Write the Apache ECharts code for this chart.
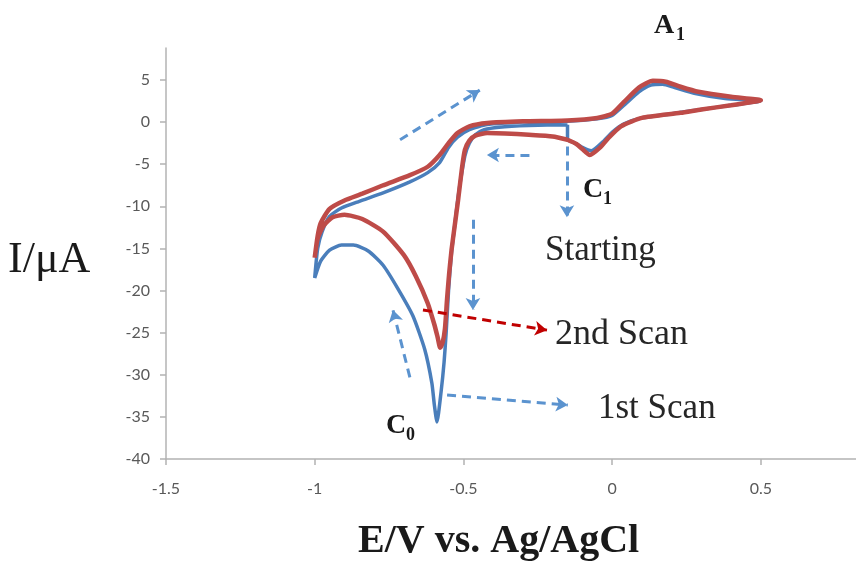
<!DOCTYPE html>
<html>
<head>
<meta charset="utf-8">
<script src="https://cdn.jsdelivr.net/npm/echarts@6/dist/echarts.min.js"></script>
<style>
  html, body { margin: 0; padding: 0; background: #ffffff; }
  #chart { width: 856px; height: 561px; }
</style>
</head>
<body>
<div id="chart"></div>
<script>
// 1st scan (blue), in sweep order: start at -0.15 V, go negative, back to 0.5 V, return
var scan1E = [-0.15, -0.28, -0.38, -0.43, -0.46, -0.48, -0.495, -0.51, -0.52, -0.53, -0.54, -0.55, -0.558, -0.565, -0.575, -0.589,
  -0.598, -0.606, -0.63, -0.67, -0.72, -0.77, -0.82, -0.87, -0.91, -0.95, -0.98, -1.0,
  -0.99, -0.975, -0.95, -0.91, -0.85, -0.77, -0.68, -0.62, -0.58, -0.55, -0.52, -0.48, -0.42, -0.3, -0.15, -0.05, 0.0, 0.04, 0.09, 0.13, 0.17, 0.21, 0.28, 0.38, 0.5,
  0.4, 0.3, 0.2, 0.1, 0.04, 0.0, -0.03, -0.07, -0.1, -0.13, -0.15, -0.15];
var scan1I = [-0.3, -0.4, -0.6, -0.9, -1.5, -2.5, -4, -7, -9.5, -12.5, -15.5, -20, -25, -28.5, -32, -35.6,
  -33.5, -31, -27, -23, -19.8, -17, -15.3, -14.6, -14.6, -15.2, -16.5, -18.5,
  -15, -13, -11.2, -10.2, -9.4, -8.4, -7.1, -6.0, -4.8, -3.0, -1.8, -0.9, -0.3, 0.0, 0.1, 0.4, 0.8, 2.0, 3.6, 4.4, 4.5, 4.1, 3.4, 2.8, 2.5,
  2.0, 1.5, 1.0, 0.5, -0.2, -1.2, -2.3, -3.4, -3.0, -2.4, -2.1, -0.3];

// 2nd scan (red)
var scan2E = [-0.15, -0.2, -0.28, -0.36, -0.42, -0.46, -0.48, -0.495, -0.505, -0.518, -0.53, -0.54, -0.548, -0.555, -0.562, -0.57, -0.578,
  -0.587, -0.598, -0.62, -0.66, -0.7, -0.77, -0.84, -0.9, -0.94, -0.97, -0.99, -1.0,
  -0.99, -0.98, -0.95, -0.9, -0.84, -0.77, -0.68, -0.62, -0.58, -0.55, -0.52, -0.48, -0.42, -0.3, -0.15, -0.05, 0.0, 0.04, 0.09, 0.137, 0.18, 0.23, 0.29, 0.4, 0.5,
  0.4, 0.3, 0.23, 0.1, 0.03, -0.01, -0.04, -0.075, -0.1, -0.12, -0.15];
var scan2I = [-2.1, -1.7, -1.5, -1.35, -1.3, -1.6, -2.2, -3.3, -5.5, -9.3, -12.5, -15.2, -18, -21, -24.5, -26.2, -26.8,
  -25.5, -24, -21.5, -18.3, -15.8, -13.0, -11.5, -11.0, -11.3, -12.3, -13.8, -16.1,
  -13.5, -12.0, -10.3, -9.3, -8.5, -7.5, -6.3, -5.3, -3.9, -2.5, -1.3, -0.5, -0.1, 0.1, 0.2, 0.5, 1.0, 2.4, 4.1, 4.9, 4.8, 4.2, 3.6, 3.0, 2.6,
  2.0, 1.5, 1.1, 0.5, -0.5, -1.8, -3.0, -3.9, -3.2, -2.6, -2.1];

// dashed arrows: [E start, I start, E end, I end]
var arrowBlue = [
  [-0.713, -2.1, -0.445, 3.8],
  [-0.278, -3.9, -0.421, -3.9],
  [-0.152, -2.9, -0.152, -11.3],
  [-0.468, -11.6, -0.468, -22.3],
  [-0.68, -30.3, -0.737, -22.3],
  [-0.555, -32.4, -0.149, -33.6]
];
var arrowRed = [
  [-0.636, -22.3, -0.219, -24.7]
];

// axis range: the original plot is cut off at the right edge
var xTicks = { min: -1.5, max: 0.82, interval: 0.5 };
var yTicks = { min: -40, max: 8.8, interval: 5 };

function zip(xs, ys) {
  var out = [];
  for (var i = 0; i < xs.length; i++) out.push([xs[i], ys[i]]);
  return out;
}

function arrowLines(list) {
  return list.map(function (a) {
    return [{ coord: [a[0], a[1]] }, { coord: [a[2], a[3]] }];
  });
}

var serif = '"Liberation Serif", "DejaVu Serif", serif';
var sans = 'Lato, "Open Sans", sans-serif';

var myChart = echarts.init(document.getElementById('chart'), null, { renderer: 'canvas' });

var option = {
  backgroundColor: '#ffffff',
  animation: false,
  grid: { left: 166, top: 48, right: 0, height: 411, containLabel: false },
  xAxis: {
    type: 'value',
    min: xTicks.min, max: xTicks.max, interval: xTicks.interval,
    axisLine: { onZero: false, lineStyle: { color: '#b3b3b3', width: 1.5 } },
    axisTick: { show: true, length: 6, lineStyle: { color: '#b3b3b3', width: 1.5 } },
    splitLine: { show: false },
    axisLabel: { color: '#595959', fontSize: 16, fontFamily: sans, margin: 22, showMaxLabel: false }
  },
  yAxis: {
    type: 'value',
    min: yTicks.min, max: yTicks.max, interval: yTicks.interval,
    axisLine: { show: true, onZero: false, lineStyle: { color: '#b3b3b3', width: 1.5 } },
    axisTick: { show: true, length: 6, lineStyle: { color: '#b3b3b3', width: 1.5 } },
    splitLine: { show: false },
    axisLabel: { color: '#595959', fontSize: 16, fontFamily: sans, margin: 16, showMaxLabel: false }
  },
  series: [
    {
      name: '1st Scan', type: 'line', data: zip(scan1E, scan1I),
      showSymbol: false, smooth: 0.2, clip: false,
      lineStyle: { color: '#4a7ebb', width: 3.5 }
    },
    {
      name: '2nd Scan', type: 'line', data: zip(scan2E, scan2I),
      showSymbol: false, smooth: 0.2, clip: false,
      lineStyle: { color: '#be4b48', width: 4.5 }
    },
    {
      name: 'arrows', type: 'line', data: [],
      markLine: {
        silent: true, animation: false,
        symbol: ['none', 'arrow'], symbolSize: [11, 12],
        label: { show: false },
        lineStyle: { color: '#5b93cf', width: 3, type: [9, 6] },
        data: arrowLines(arrowBlue)
      }
    },
    {
      name: 'arrowsRed', type: 'line', data: [],
      markLine: {
        silent: true, animation: false,
        symbol: ['none', 'arrow'], symbolSize: [11, 12],
        label: { show: false },
        lineStyle: { color: '#c00000', width: 3, type: [9, 6] },
        data: arrowLines(arrowRed)
      }
    }
  ],
  graphic: [
    { type: 'text', left: 8, top: 238, style: { text: 'I/μA', font: '44px ' + serif, fill: '#1a1a1a' } },
    { type: 'text', left: 358, top: 522, style: { text: 'E/V vs. Ag/AgCl', font: 'bold 40px ' + serif, fill: '#1a1a1a' } },
    { type: 'text', left: 654, top: 12, style: { text: 'A', font: 'bold 28px ' + serif, fill: '#1a1a1a' } },
    { type: 'text', left: 676, top: 26, style: { text: '1', font: 'bold 18px ' + serif, fill: '#1a1a1a' } },
    { type: 'text', left: 583, top: 176, style: { text: 'C', font: 'bold 28px ' + serif, fill: '#1a1a1a' } },
    { type: 'text', left: 603, top: 190, style: { text: '1', font: 'bold 18px ' + serif, fill: '#1a1a1a' } },
    { type: 'text', left: 386, top: 412, style: { text: 'C', font: 'bold 28px ' + serif, fill: '#1a1a1a' } },
    { type: 'text', left: 406, top: 426, style: { text: '0', font: 'bold 18px ' + serif, fill: '#1a1a1a' } },
    { type: 'text', left: 545, top: 233, style: { text: 'Starting', font: '35px ' + serif, fill: '#262626' } },
    { type: 'text', left: 555, top: 317, style: { text: '2nd Scan', font: '36px ' + serif, fill: '#262626' } },
    { type: 'text', left: 598, top: 391, style: { text: '1st Scan', font: '35px ' + serif, fill: '#262626' } }
  ]
};

option && myChart.setOption(option);

window.onresize = function () {
  myChart.resize();
};
</script>
</body>
</html>
